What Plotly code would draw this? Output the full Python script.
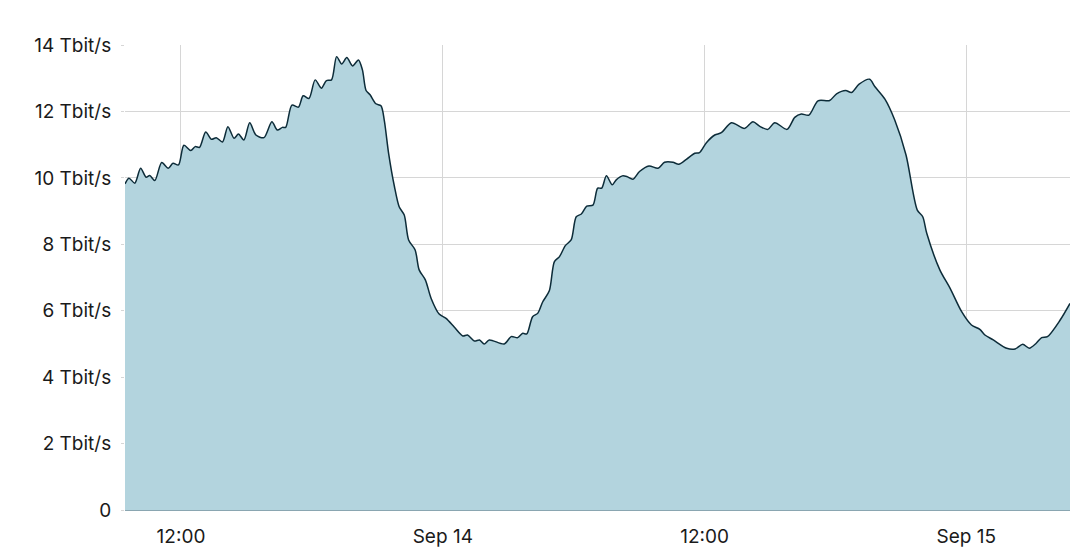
import plotly.graph_objects as go

times = [
    "2023-09-13 09:26", "2023-09-13 09:37", "2023-09-13 09:53", "2023-09-13 10:09", "2023-09-13 10:24",
    "2023-09-13 10:34", "2023-09-13 10:48", "2023-09-13 11:07", "2023-09-13 11:25", "2023-09-13 11:38",
    "2023-09-13 11:53", "2023-09-13 12:08", "2023-09-13 12:27", "2023-09-13 12:39", "2023-09-13 12:51",
    "2023-09-13 13:08", "2023-09-13 13:24", "2023-09-13 13:37", "2023-09-13 13:54", "2023-09-13 14:09",
    "2023-09-13 14:26", "2023-09-13 14:38", "2023-09-13 14:53", "2023-09-13 15:09", "2023-09-13 15:26",
    "2023-09-13 15:48", "2023-09-13 16:10", "2023-09-13 16:25", "2023-09-13 16:39", "2023-09-13 16:48",
    "2023-09-13 17:05", "2023-09-13 17:23", "2023-09-13 17:36", "2023-09-13 17:52", "2023-09-13 18:09",
    "2023-09-13 18:26", "2023-09-13 18:40", "2023-09-13 18:54", "2023-09-13 19:08", "2023-09-13 19:22",
    "2023-09-13 19:36", "2023-09-13 19:52", "2023-09-13 20:08", "2023-09-13 20:19", "2023-09-13 20:29",
    "2023-09-13 20:40", "2023-09-13 20:56", "2023-09-13 21:10", "2023-09-13 21:19", "2023-09-13 21:31",
    "2023-09-13 21:47", "2023-09-13 22:00", "2023-09-13 22:14", "2023-09-13 22:26", "2023-09-13 22:44",
    "2023-09-13 22:55", "2023-09-13 23:12", "2023-09-13 23:28", "2023-09-13 23:50", "2023-09-14 00:09",
    "2023-09-14 00:32", "2023-09-14 00:55", "2023-09-14 01:08", "2023-09-14 01:27", "2023-09-14 01:41",
    "2023-09-14 01:54", "2023-09-14 02:08", "2023-09-14 02:49", "2023-09-14 03:08", "2023-09-14 03:26",
    "2023-09-14 03:40", "2023-09-14 03:51", "2023-09-14 04:07", "2023-09-14 04:21", "2023-09-14 04:35",
    "2023-09-14 04:53", "2023-09-14 05:07", "2023-09-14 05:21", "2023-09-14 05:37", "2023-09-14 05:53",
    "2023-09-14 06:07", "2023-09-14 06:21", "2023-09-14 06:36", "2023-09-14 06:53", "2023-09-14 07:06",
    "2023-09-14 07:17", "2023-09-14 07:30", "2023-09-14 07:46", "2023-09-14 07:57", "2023-09-14 08:14",
    "2023-09-14 08:26", "2023-09-14 08:43", "2023-09-14 09:01", "2023-09-14 09:27", "2023-09-14 09:52",
    "2023-09-14 10:10", "2023-09-14 10:33", "2023-09-14 10:49", "2023-09-14 11:10", "2023-09-14 11:33",
    "2023-09-14 11:46", "2023-09-14 12:05", "2023-09-14 12:28", "2023-09-14 12:46", "2023-09-14 13:14",
    "2023-09-14 13:50", "2023-09-14 14:13", "2023-09-14 14:32", "2023-09-14 14:54", "2023-09-14 15:13",
    "2023-09-14 15:47", "2023-09-14 16:08", "2023-09-14 16:26", "2023-09-14 16:47", "2023-09-14 17:12",
    "2023-09-14 17:44", "2023-09-14 18:03", "2023-09-14 18:28", "2023-09-14 18:44", "2023-09-14 19:05",
    "2023-09-14 19:34", "2023-09-14 19:48", "2023-09-14 20:16", "2023-09-14 20:43", "2023-09-14 21:14",
    "2023-09-14 21:45", "2023-09-14 22:00", "2023-09-14 22:11", "2023-09-14 22:47", "2023-09-14 23:15",
    "2023-09-14 23:47", "2023-09-15 00:14", "2023-09-15 00:37", "2023-09-15 00:51", "2023-09-15 01:14",
    "2023-09-15 01:51", "2023-09-15 02:14", "2023-09-15 02:35", "2023-09-15 02:53", "2023-09-15 03:12",
    "2023-09-15 03:27", "2023-09-15 03:43", "2023-09-15 04:18", "2023-09-15 04:45",
]

traffic_tbps = [
    9.82, 9.99, 9.84, 10.29, 10.02,
    10.07, 9.92, 10.46, 10.29, 10.44,
    10.39, 10.98, 10.82, 10.94, 10.92,
    11.38, 11.16, 11.21, 11.08, 11.54,
    11.19, 11.32, 11.14, 11.66, 11.29,
    11.21, 11.69, 11.44, 11.52, 11.52,
    12.19, 12.13, 12.47, 12.39, 12.95,
    12.70, 12.93, 12.95, 13.65, 13.43,
    13.62, 13.37, 13.55, 13.25, 12.63,
    12.50, 12.23, 12.17, 11.74, 10.74,
    9.74, 9.13, 8.88, 8.13, 7.83,
    7.23, 6.93, 6.37, 5.90, 5.77,
    5.50, 5.24, 5.27, 5.09, 5.12,
    5.00, 5.12, 5.00, 5.22, 5.19,
    5.32, 5.30, 5.82, 5.92, 6.27,
    6.60, 7.48, 7.63, 7.96, 8.13,
    8.83, 8.91, 9.15, 9.18, 9.69,
    9.69, 10.06, 9.79, 9.94, 10.06,
    10.04, 9.96, 10.19, 10.36, 10.29,
    10.47, 10.47, 10.41, 10.56, 10.74,
    10.76, 11.06, 11.29, 11.36, 11.66,
    11.49, 11.69, 11.55, 11.46, 11.66,
    11.46, 11.82, 11.92, 11.89, 12.32,
    12.33, 12.53, 12.63, 12.57, 12.82,
    12.97, 12.75, 12.37, 11.74, 10.69,
    9.03, 8.83, 8.33, 7.23, 6.68,
    5.97, 5.57, 5.44, 5.27, 5.12,
    4.87, 4.85, 4.99, 4.87, 5.02,
    5.19, 5.22, 5.72, 6.22,
]

x_tick_vals = ["2023-09-13 12:00", "2023-09-14 00:00", "2023-09-14 12:00", "2023-09-15 00:00"]
x_tick_text = ["12:00", "Sep 14", "12:00", "Sep 15"]
y_tick_vals = [0, 2, 4, 6, 8, 10, 12, 14]
y_tick_text = ["0", "2 Tbit/s", "4 Tbit/s", "6 Tbit/s", "8 Tbit/s", "10 Tbit/s", "12 Tbit/s", "14 Tbit/s"]

fig = go.Figure()
fig.add_trace(go.Scatter(
    x=times, y=traffic_tbps,
    mode="lines",
    fill="tozeroy",
    fillcolor="#b3d4de",
    line=dict(color="#0d2c39", width=1.5, shape="spline", smoothing=0.8),
    hoverinfo="skip",
))

grid = "#d6d6d6"
label_font = dict(family="Inter, sans-serif", size=19, color="#1a1a1a")
fig.update_layout(
    width=1070, height=556,
    margin=dict(l=125, r=0, t=45, b=46),
    paper_bgcolor="white", plot_bgcolor="white",
    showlegend=False,
    font=label_font,
    xaxis=dict(
        range=[times[0], times[-1]],
        tickvals=x_tick_vals, ticktext=x_tick_text,
        showgrid=True, gridcolor=grid, gridwidth=1,
        ticks="", showline=False, zeroline=False,
        ticklabelstandoff=13,
        tickfont=label_font,
    ),
    yaxis=dict(
        range=[0, 14],
        tickvals=y_tick_vals, ticktext=y_tick_text,
        showgrid=True, gridcolor=grid, gridwidth=1,
        ticks="outside", ticklen=3, tickcolor=grid,
        ticklabelstandoff=6,
        zeroline=True, zerolinecolor="#8aa6b1", zerolinewidth=1,
        showline=False,
        tickfont=label_font,
    ),
)

fig.write_html(
    "out.html",
    config={"displayModeBar": False},
    post_script="document.body.style.margin='0';document.documentElement.style.overflow='hidden';",
)
